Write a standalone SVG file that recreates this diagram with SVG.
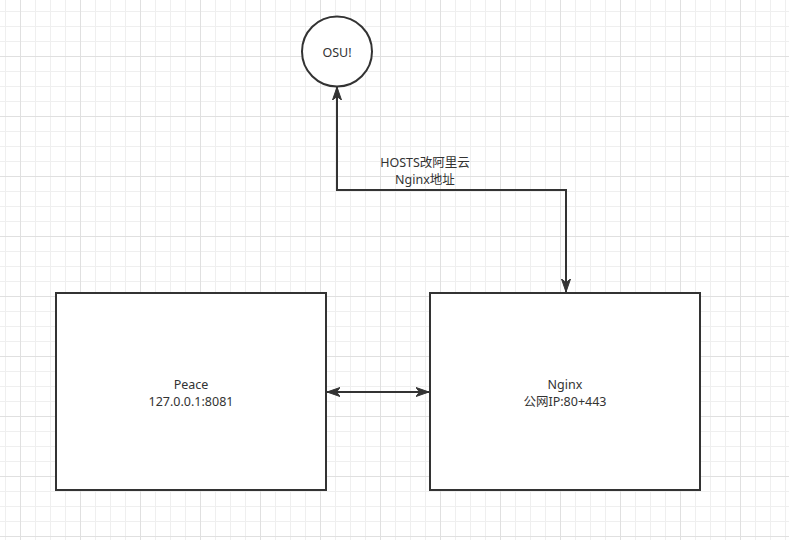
<svg xmlns="http://www.w3.org/2000/svg" width="789" height="540" viewBox="0 0 789 540">
  <style>
    .box { fill: #ffffff; stroke: #333333; stroke-width: 2; }
    .edge { fill: none; stroke: #333333; stroke-width: 2; }
    .lbl { font-family: "Noto Sans", "Noto Sans CJK SC", sans-serif; font-size: 12.5px; fill: #333333; text-anchor: middle; }
  </style>
  <defs>
    <pattern id="grid" x="5" y="11" width="60" height="60" patternUnits="userSpaceOnUse">
      <path d="M0.5 0V60M15.5 0V60M30.5 0V60M45.5 0V60M0 0.5H60M0 15.5H60M0 30.5H60M0 45.5H60" stroke="#efefef" stroke-width="1" fill="none"/>
      <path d="M15.5 0V60M0 45.5H60" stroke="#e0e0e0" stroke-width="1" fill="none"/>
    </pattern>
    <marker id="arr" viewBox="0 0 14 10" refX="13" refY="5" markerWidth="14" markerHeight="10" markerUnits="userSpaceOnUse" orient="auto-start-reverse">
      <path d="M13 5 L0 0.5 L3.5 5 L0 9.5 Z" fill="#333333" stroke="#333333" stroke-width="1"/>
    </marker>
  </defs>
  <rect width="789" height="540" fill="#ffffff"/>
  <rect width="789" height="540" fill="url(#grid)"/>

  <g id="connectors">
    <path class="edge" d="M337 87 V190 H566 V292" marker-start="url(#arr)" marker-end="url(#arr)"/>
    <text class="lbl" x="425" y="166.5">HOSTS改阿里云</text>
    <text class="lbl" x="425" y="183.5">Nginx地址</text>
    <path class="edge" d="M327 392 H429" marker-start="url(#arr)" marker-end="url(#arr)"/>
  </g>

  <g id="osu">
    <circle class="box" cx="337" cy="51.5" r="35"/>
    <text class="lbl" x="337" y="57">OSU!</text>
  </g>

  <g id="peace">
    <rect class="box" x="56" y="293" width="270" height="197"/>
    <text class="lbl" x="191" y="388.5">Peace</text>
    <text class="lbl" x="191" y="405.5">127.0.0.1:8081</text>
  </g>

  <g id="nginx">
    <rect class="box" x="430" y="293" width="270" height="197"/>
    <text class="lbl" x="565" y="388.5">Nginx</text>
    <text class="lbl" x="565" y="405.5">公网IP:80+443</text>
  </g>
</svg>
